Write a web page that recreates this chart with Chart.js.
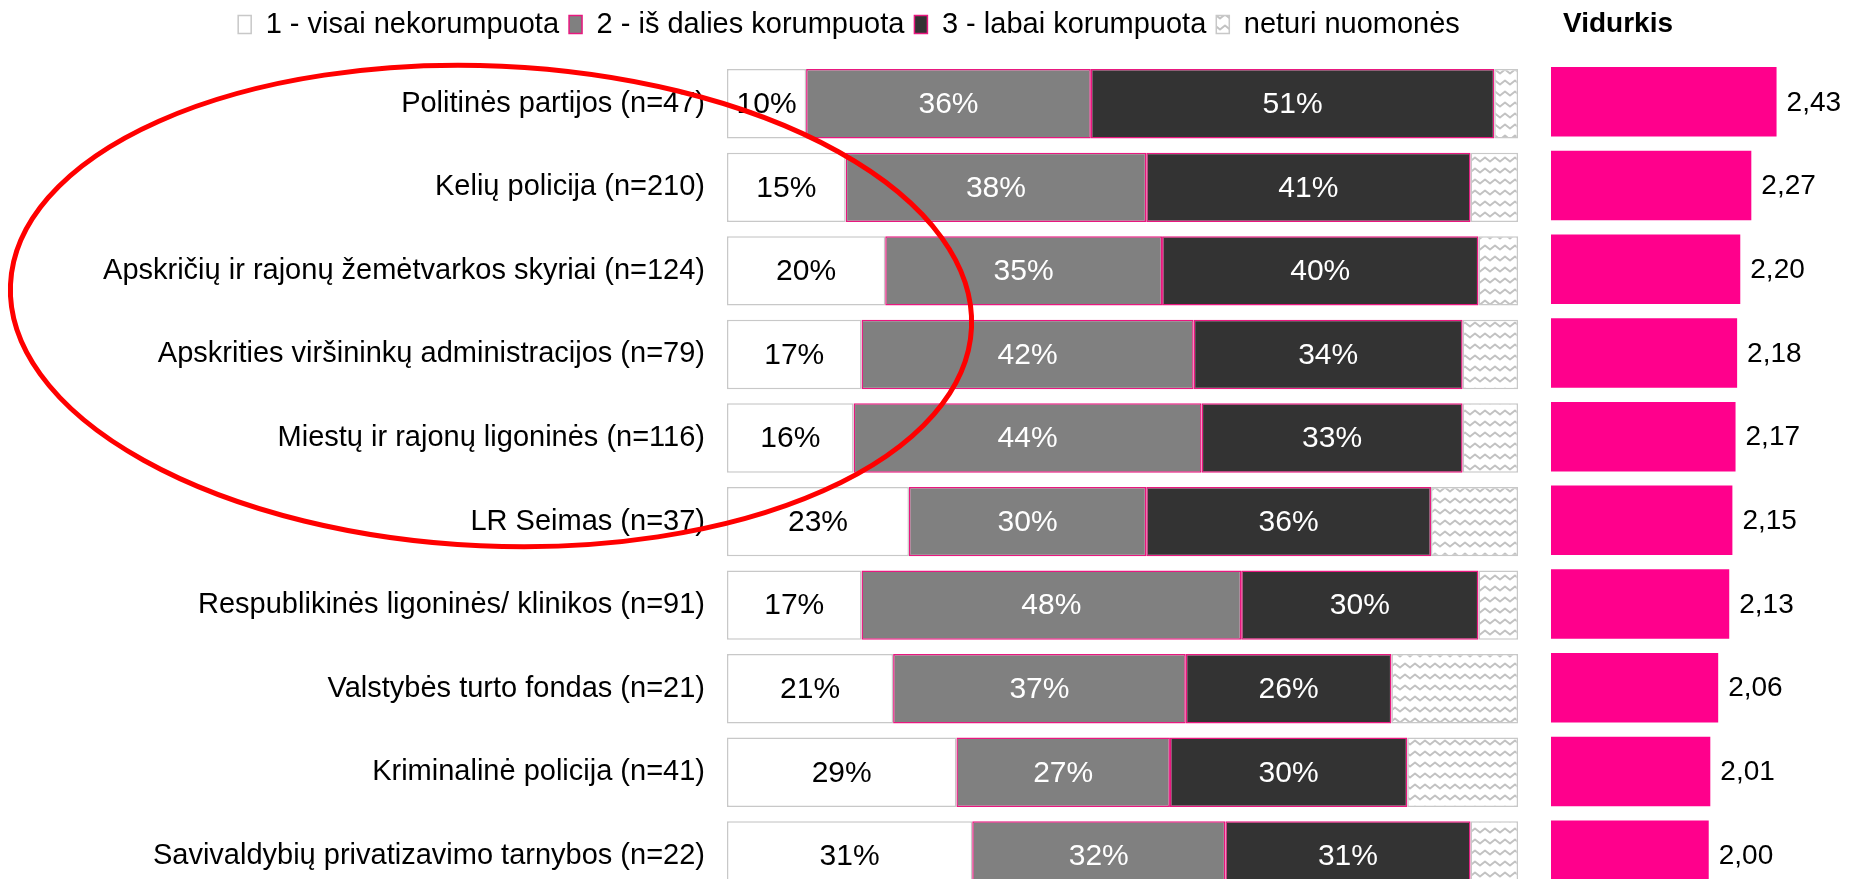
<!DOCTYPE html>
<html lang="lt">
<head>
<meta charset="utf-8">
<title>Institucijų korumpuotumo vertinimas</title>
<script src="https://cdn.jsdelivr.net/npm/chart.js@4.4.0/dist/chart.umd.min.js"></script>
<style>
  html, body { margin: 0; padding: 0; background: #fff; overflow: hidden; }
  #wrap { position: relative; width: 1860px; height: 879px; overflow: hidden; }
  #barChart { position: absolute; left: 0; top: 0; }
  #avgChart { position: absolute; left: 1530px; top: 0; }
</style>
</head>
<body>
<div id="wrap">
  <canvas id="barChart" width="1698" height="937"></canvas>
  <canvas id="avgChart" width="330" height="930"></canvas>
</div>
<script>
const institutions = [
    'Politinės partijos (n=47)',
    'Kelių policija (n=210)',
    'Apskričių ir rajonų žemėtvarkos skyriai (n=124)',
    'Apskrities viršininkų administracijos (n=79)',
    'Miestų ir rajonų ligoninės (n=116)',
    'LR Seimas (n=37)',
    'Respublikinės ligoninės/ klinikos (n=91)',
    'Valstybės turto fondas (n=21)',
    'Kriminalinė policija (n=41)',
    'Savivaldybių privatizavimo tarnybos (n=22)'
];
const seriesNames = ['1 - visai nekorumpuota', '2 - iš dalies korumpuota', '3 - labai korumpuota', 'neturi nuomonės'];
const notCorrupt = [10, 15, 20, 17, 16, 23, 17, 21, 29, 31];
const partlyCorrupt = [36, 38, 35, 42, 44, 30, 48, 37, 27, 32];
const veryCorrupt = [51, 41, 40, 34, 33, 36, 30, 26, 30, 31];
const noOpinion = [3, 6, 5, 7, 7, 11, 5, 16, 14, 6];
const averages = [2.43, 2.27, 2.20, 2.18, 2.17, 2.15, 2.13, 2.06, 2.01, 2.00];

Chart.defaults.font.family = "'Liberation Sans', Arial, Helvetica, sans-serif";
Chart.defaults.color = '#000';

// wavy grey lines on white for the "no opinion" segment
function makeWaves(ctx) {
    const tile = document.createElement('canvas');
    tile.width = 10;
    tile.height = 11;
    const c = tile.getContext('2d');
    c.fillStyle = '#ffffff';
    c.fillRect(0, 0, 10, 11);
    c.strokeStyle = '#c2c2c2';
    c.lineWidth = 2;
    c.lineJoin = 'round';
    c.beginPath();
    c.moveTo(-5, 3.5);
    c.lineTo(0, 7.5);
    c.lineTo(5, 3.5);
    c.lineTo(10, 7.5);
    c.lineTo(15, 3.5);
    c.stroke();
    return ctx.createPattern(tile, 'repeat');
}

// percent text in the middle of the first three segments
const segmentLabels = {
    id: 'segmentLabels',
    afterDatasetsDraw(chart) {
        const ctx = chart.ctx;
        ctx.save();
        ctx.font = "30px 'Liberation Sans', Arial, sans-serif";
        ctx.textAlign = 'center';
        ctx.textBaseline = 'middle';
        chart.data.datasets.forEach((ds, i) => {
            if (i > 2) return;
            ctx.fillStyle = i === 0 ? '#000000' : '#ffffff';
            chart.getDatasetMeta(i).data.forEach((bar, j) => {
                const p = bar.getCenterPoint();
                ctx.fillText(ds.data[j] + '%', p.x, p.y + 1);
            });
        });
        ctx.restore();
    }
};

// red ring around the upper rows, tilted a little
const ring = {
    id: 'ring',
    afterDraw(chart) {
        const ctx = chart.ctx;
        ctx.save();
        ctx.strokeStyle = '#ff0000';
        ctx.lineWidth = 5;
        ctx.beginPath();
        ctx.ellipse(491, 306, 481, 240, 0.045, 0, Math.PI * 2);
        ctx.stroke();
        ctx.restore();
    }
};

const barCanvas = document.getElementById('barChart');
const barChart = new Chart(barCanvas, {
    type: 'bar',
    data: {
        labels: institutions,
        datasets: [
            { label: seriesNames[0], data: notCorrupt, backgroundColor: '#ffffff', borderColor: '#c8c8c8' },
            { label: seriesNames[1], data: partlyCorrupt, backgroundColor: '#808080', borderColor: '#e8187f' },
            { label: seriesNames[2], data: veryCorrupt, backgroundColor: '#333333', borderColor: '#e8187f' },
            { label: seriesNames[3], data: noOpinion, backgroundColor: makeWaves(barCanvas.getContext('2d')), borderColor: '#c8c8c8' }
        ]
    },
    options: {
        indexAxis: 'y',
        responsive: false,
        animation: false,
        datasets: {
            bar: { borderWidth: 1.5, borderSkipped: false, barPercentage: 0.83, categoryPercentage: 1 }
        },
        layout: { padding: 0 },
        scales: {
            x: {
                stacked: true,
                min: 0,
                max: 100,
                position: 'top',
                grid: { display: false, drawTicks: false },
                border: { display: false },
                ticks: { display: false },
                afterFit(scale) { scale.height = 13; }
            },
            y: {
                stacked: true,
                grid: { display: false, drawTicks: false },
                border: { display: false },
                ticks: { font: { size: 29 }, padding: 22 },
                afterFit(scale) { scale.width = 727; }
            },
            // empty strip on the right so the bars stop short of the legend's centre span
            yGap: {
                axis: 'y',
                type: 'category',
                position: 'right',
                grid: { display: false, drawTicks: false },
                border: { display: false },
                ticks: { display: false },
                afterFit(scale) { scale.width = 180; }
            }
        },
        plugins: {
            legend: {
                position: 'top',
                labels: { font: { size: 29 }, boxWidth: 13, boxHeight: 18, padding: 10 }
            },
            tooltip: { enabled: false }
        }
    },
    plugins: [segmentLabels, ring]
});

// average score printed after each pink bar, with a decimal comma
const avgLabels = {
    id: 'avgLabels',
    afterDatasetsDraw(chart) {
        const ctx = chart.ctx;
        ctx.save();
        ctx.font = "28px 'Liberation Sans', Arial, sans-serif";
        ctx.fillStyle = '#000000';
        ctx.textAlign = 'left';
        ctx.textBaseline = 'middle';
        const ds = chart.data.datasets[0];
        chart.getDatasetMeta(0).data.forEach((bar, j) => {
            ctx.fillText(ds.data[j].toFixed(2).replace('.', ','), bar.x + 10, bar.y + 1);
        });
        ctx.restore();
    }
};

const avgHeader = {
    id: 'avgHeader',
    afterDraw(chart) {
        const ctx = chart.ctx;
        ctx.save();
        ctx.font = "bold 28px 'Liberation Sans', Arial, sans-serif";
        ctx.fillStyle = '#000000';
        ctx.textBaseline = 'middle';
        ctx.fillText(chart.data.datasets[0].label, 33, 24);
        ctx.restore();
    }
};

const avgChart = new Chart(document.getElementById('avgChart'), {
    type: 'bar',
    data: {
        labels: institutions,
        datasets: [{
            label: 'Vidurkis',
            data: averages,
            backgroundColor: '#ff008c',
            borderWidth: 0,
            barPercentage: 0.83,
            categoryPercentage: 1
        }]
    },
    options: {
        indexAxis: 'y',
        responsive: false,
        animation: false,
        layout: { padding: { top: 60, bottom: 33, left: 21, right: 3 } },
        scales: {
            x: { display: false, min: 1, max: 2.94 },
            y: { display: false }
        },
        plugins: {
            legend: { display: false },
            tooltip: { enabled: false }
        }
    },
    plugins: [avgLabels, avgHeader]
});
</script>
</body>
</html>
